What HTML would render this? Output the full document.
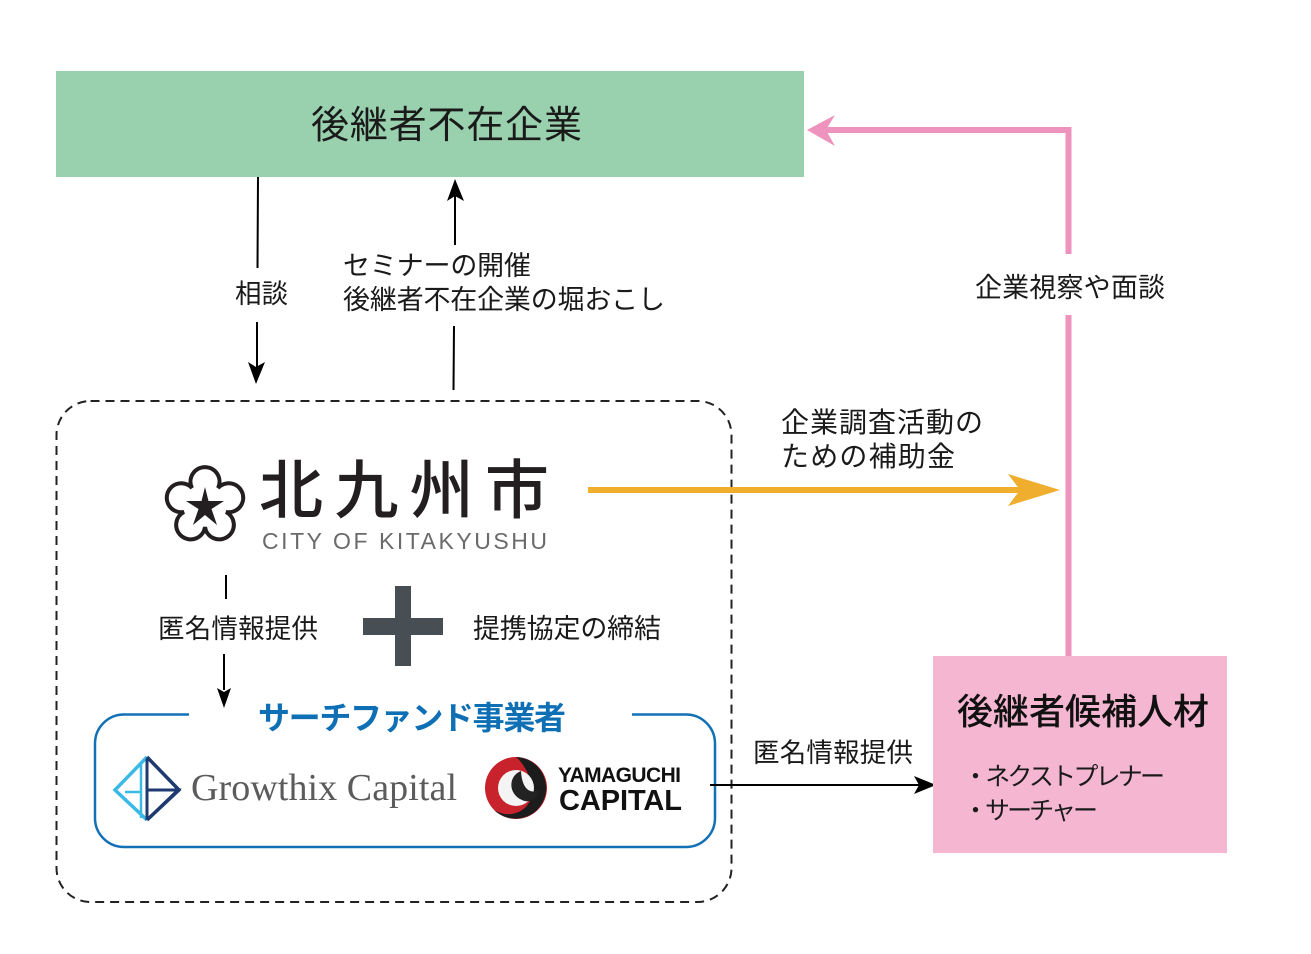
<!DOCTYPE html>
<html lang="ja">
<head>
<meta charset="utf-8">
<style>
html,body{margin:0;padding:0;background:#fff;width:1311px;height:954px;overflow:hidden}
svg{display:block}
text{font-family:"Liberation Sans","Noto Sans CJK JP",sans-serif;fill:#1a1a1a}
</style>
</head>
<body>
<svg width="1311" height="954" viewBox="0 0 1311 954" xmlns="http://www.w3.org/2000/svg">
<rect width="1311" height="954" fill="#fff"/>
<rect x="56" y="71" width="748" height="106" fill="#99d0ae"/>
<text x="311" y="138" font-size="38" textLength="271">後継者不在企業</text>

<!-- pink connector -->
<path d="M1068.500 656V315M1068.500 254V130H825" fill="none" stroke="#ee93bd" stroke-width="6"/>
<path d="M807 130L835 115L826 130L835 146Z" fill="#ee93bd"/>
<text x="975" y="297" font-size="27" textLength="190">企業視察や面談</text>

<!-- black arrows top -->
<path d="M258 177L257.500 268M257 322V368" fill="none" stroke="#000" stroke-width="2"/>
<path d="M256 384L248 362L256 367L265 362Z" fill="#000"/>
<text x="235" y="303" font-size="26.500" textLength="53">相談</text>
<path d="M453.500 390L454 326M455 245V195" fill="none" stroke="#000" stroke-width="2"/>
<path d="M455 179L464 201L455 196L447 201Z" fill="#000"/>
<text x="343" y="275" font-size="27" textLength="188">セミナーの開催</text>
<text x="343" y="309" font-size="27" textLength="322">後継者不在企業の堀おこし</text>

<!-- dashed group -->
<rect x="56.500" y="401" width="675" height="501" rx="34" fill="none" stroke="#222" stroke-width="2" stroke-dasharray="9 6"/>

<!-- city logo -->
<path d="M192 488A14.500 14.500 0 1 1 218 488A14.500 14.500 0 1 1 226 512A14.500 14.500 0 1 1 205 527A14.500 14.500 0 1 1 184 512A14.500 14.500 0 1 1 192 488Z" fill="none" stroke="#231f20" stroke-width="4"/>
<path d="M205 487L208.500 501L224 501L211.500 509L217 525L205 515L193 525L198.500 509L186 501L201.500 501Z" fill="#231f20"/>
<text x="259" y="513" font-size="64" textLength="290" font-weight="500" style="fill:#231f20">北九州市</text>
<text x="262" y="549" font-size="23" textLength="285" style="fill:#6b6a6a">CITY OF KITAKYUSHU</text>

<!-- yellow arrow -->
<path d="M588 490H1030" fill="none" stroke="#f0ae2e" stroke-width="6"/>
<path d="M1060 490L1008 474L1020 490L1008 506Z" fill="#f0ae2e"/>
<text x="781" y="432" font-size="28" textLength="202">企業調査活動の</text>
<text x="781" y="466" font-size="28" textLength="174">ための補助金</text>

<!-- left small arrow -->
<path d="M226 575V599M224 654V690" fill="none" stroke="#000" stroke-width="2"/>
<path d="M224 708L217 688L224 692L231 688Z" fill="#000"/>
<text x="158" y="638" font-size="26.500" textLength="160">匿名情報提供</text>

<!-- plus -->
<rect x="395" y="586" width="16" height="80" fill="#474f55"/>
<rect x="363" y="618" width="80" height="17" fill="#474f55"/>
<text x="473" y="638" font-size="27" textLength="188">提携協定の締結</text>

<!-- search fund box -->
<path d="M189 714.500H124A29 29 0 0 0 95 743.500V818A29 29 0 0 0 124 847H686A29 29 0 0 0 715 818V743.500A29 29 0 0 0 686 714.500H632" fill="none" stroke="#1270b5" stroke-width="2.500"/>
<text x="258" y="729" font-size="32" font-weight="700" textLength="308" style="fill:#0f6fb5">サーチファンド事業者</text>

<!-- growthix logo -->
<path d="M147 757L115 790L147 820" fill="none" stroke="#3bb9e6" stroke-width="3.500"/>
<path d="M147 757L179 790L147 820" fill="none" stroke="#1e3a70" stroke-width="3.500"/>
<path d="M147 759V820M147 790H178L148 819" fill="none" stroke="#1e3a70" stroke-width="3"/>
<path d="M141 762V818M141 792H125" fill="none" stroke="#3bb9e6" stroke-width="2.500"/>
<text x="191" y="800" font-size="38" textLength="266" style="font-family:'Liberation Serif',serif;fill:#5b5b5d">Growthix Capital</text>

<!-- yamaguchi logo -->
<circle cx="516" cy="788" r="31" fill="#c8222c"/>
<path d="M516 757A31 31 0 0 1 537 810A31 31 0 0 1 494 810C514 822 534 806 532 790C531 778 526 766 516 757Z" fill="#1c1c1c"/>
<circle cx="516" cy="788" r="18" fill="#f4f4f4"/>
<path d="M521 771C508 776 508 794 522 800C531 804 538 798 539 790C532 794 522 791 521 771Z" fill="#222"/>
<text x="558" y="782" font-size="21" font-weight="700" textLength="123" style="fill:#111">YAMAGUCHI</text>
<text x="559" y="810" font-size="29" font-weight="700" textLength="123" style="fill:#111">CAPITAL</text>

<!-- bottom arrow -->
<path d="M710 785H920" fill="none" stroke="#000" stroke-width="2"/>
<path d="M936 785L914 776L919 785L914 794Z" fill="#000"/>
<text x="753" y="762" font-size="26.500" textLength="160">匿名情報提供</text>

<!-- candidate box -->
<rect x="933" y="656" width="294" height="197" fill="#f4b6d1"/>
<text x="957" y="724" font-size="36" textLength="252" font-weight="500" style="fill:#111">後継者候補人材</text>
<text x="963" y="785" font-size="25" textLength="202">・ネクストプレナー</text>
<text x="963" y="819" font-size="25" textLength="135">・サーチャー</text>
</svg>
</body>
</html>
